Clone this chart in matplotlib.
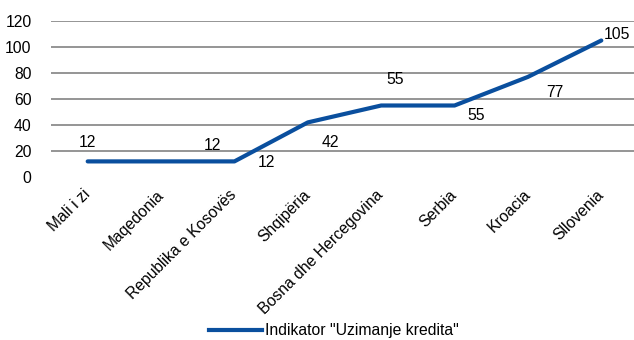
import matplotlib
matplotlib.use("Agg")
import matplotlib.pyplot as plt
from matplotlib.lines import Line2D

plt.rcParams["font.family"] = ["Liberation Sans", "DejaVu Sans"]

categories = ["Mali i zi", "Maqedonia", "Republika e Kosovës", "Shqipëria",
              "Bosna dhe Hercegovina", "Serbia", "Kroacia", "Sllovenia"]
values = [12, 12, 12, 42, 55, 55, 77, 105]
series_name = 'Indikator "Uzimanje kredita"'
y_ticks = [0, 20, 40, 60, 80, 100, 120]

# label offsets in pixels, as placed in the original
label_offsets = [(0, 19), (51, 16), (32, -1), (23, -20),
                 (14, 26), (22, -10), (27, -16), (16, 6)]

line_color = "#0a4f9e"
grid_color = "#8c8c8c"
fs = 11.3

fig = plt.figure(figsize=(6.34, 3.4), dpi=100)
ax = fig.add_axes([51 / 634, 1 - 177 / 340, 587 / 634, 156 / 340])

x = list(range(len(categories)))
ax.plot(x, values, color=line_color, linewidth=3.0, solid_capstyle="round",
        solid_joinstyle="round", zorder=3)

for xi, v, (dx, dy) in zip(x, values, label_offsets):
    ax.annotate(str(v), (xi, v), xytext=(dx, dy), textcoords="offset pixels",
                ha="center", va="center", fontsize=fs, color="#000000")

ax.set_xlim(-0.5, len(categories) - 0.5)
ax.set_ylim(0, 120)
ax.set_yticks(y_ticks)
ax.set_yticklabels([str(t) for t in y_ticks], fontsize=fs)
for t in y_ticks[1:]:
    ax.axhline(t, color=grid_color, linewidth=1.3, zorder=1)

ax.set_xticks(x)
ax.set_xticklabels(categories, rotation=45, ha="right", va="center",
                   rotation_mode="anchor", fontsize=fs)
ax.tick_params(axis="both", length=0)
ax.tick_params(axis="y", pad=14)
ax.tick_params(axis="x", pad=11)
for s in ax.spines.values():
    s.set_visible(False)

handle = Line2D([0], [0], color=line_color, linewidth=3.0)
fig.legend([handle], [series_name], loc="center", bbox_to_anchor=(334 / 634, 1 - 331 / 340),
           frameon=False, fontsize=fs, handlelength=3.4, handletextpad=0.2,
           borderpad=0, borderaxespad=0)

fig.savefig("out.png", dpi=100)
